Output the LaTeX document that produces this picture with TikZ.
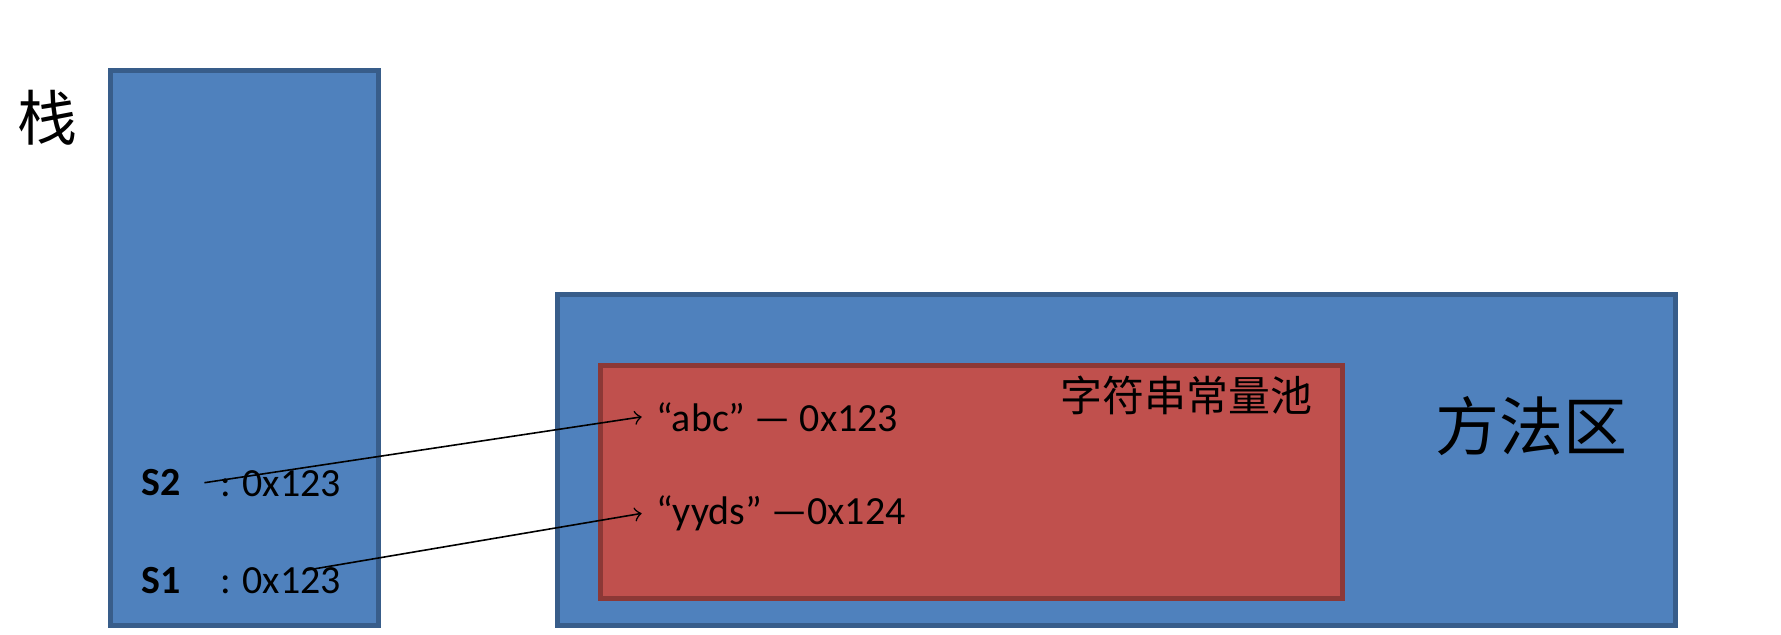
\documentclass[tikz,border=0pt]{standalone}
\usepackage{fontspec}
\setmainfont{Carlito}
\newfontfamily\cjk{Noto Sans CJK SC}
\usetikzlibrary{positioning}
\definecolor{areablue}{HTML}{4F81BD}
\definecolor{areablueline}{HTML}{385D8A}
\definecolor{poolred}{HTML}{C0504D}
\definecolor{poolredline}{HTML}{8C3836}
\tikzset{
  area/.style={fill=areablue, draw=areablueline, line width=1.2pt},
  pool/.style={fill=poolred, draw=poolredline, line width=1.2pt},
  txt/.style={font=\fontsize{10}{12}\selectfont, inner sep=0pt},
  ref/.style={->, thin}
}
\begin{document}
\begin{tikzpicture}[x=0.01cm, y=-0.01cm]
\useasboundingbox (0,0) rectangle (1568,559);

% Draw the stack and the method area
\draw[area] (97,62) rectangle (333,551);
\draw[area] (491,259) rectangle (1475,551);
\draw[pool] (529,322) rectangle (1182,527);

% Titles
\node[font=\cjk\fontsize{15}{18}\selectfont] (stack) at (42,104) {栈};
\node[font=\cjk\fontsize{16}{19}\selectfont] (method) at (1348,375) {方法区};
\node[font=\cjk\fontsize{10.5}{12}\selectfont, anchor=east] (pooltitle) at (1168,348) {字符串常量池};

% Variables on the stack
\node[txt, font=\bfseries\fontsize{10}{12}\selectfont] (s2) at (142,425) {S2};
\node[txt, anchor=west] (s2val) at (193,426) {: 0x123};
\node[txt, font=\bfseries\fontsize{10}{12}\selectfont] (s1) at (142,511) {S1};
\node[txt, anchor=west] (s1val) at (193,511) {: 0x123};

% Strings in the pool
\node[txt, anchor=west] (abc) at (577,367) {“abc” — 0x123};
\node[txt, anchor=west] (yyds) at (577,452) {“yyds” —0x124};

% References
\coordinate (s2from) at (180,425);
\coordinate (s1from) at (270,502);
\draw[ref] (s2from) -- ([xshift=-0.12cm]abc.west);
\draw[ref] (s1from) -- ([xshift=-0.12cm]yyds.west);

\end{tikzpicture}
\end{document}
